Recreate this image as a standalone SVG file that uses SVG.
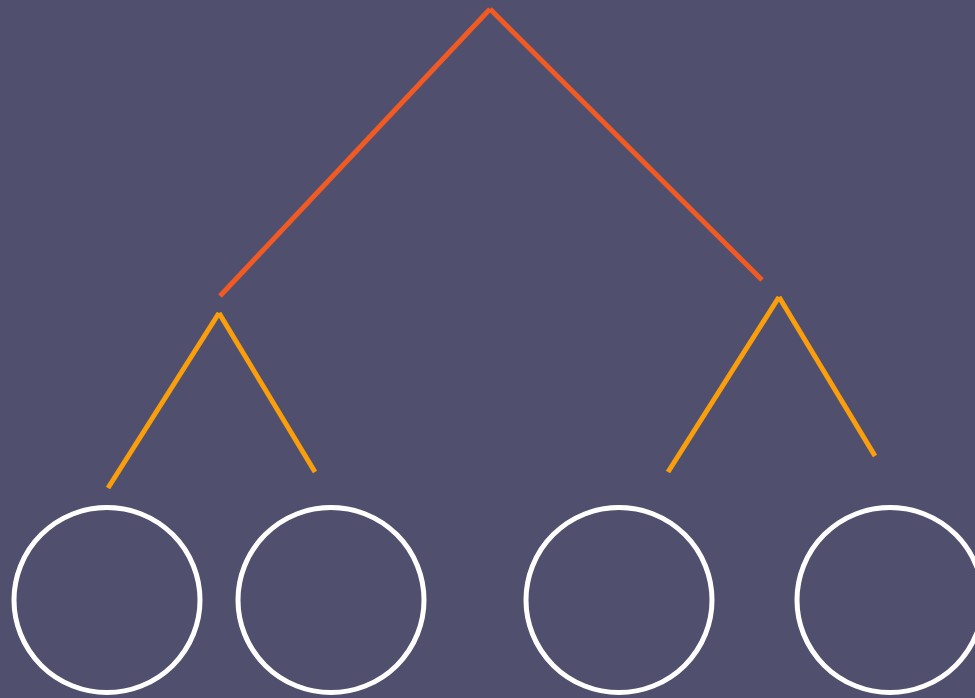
<svg xmlns="http://www.w3.org/2000/svg" width="975" height="698" viewBox="0 0 975 698">
<style>
.bg{fill:#50506E}
.top{stroke:#F15A22;stroke-width:5;fill:none}
.sub{stroke:#FA9E0C;stroke-width:5;fill:none}
.leaf{fill:none;stroke:#FFFFFF;stroke-width:5}
</style>
<rect class="bg" x="0" y="0" width="975" height="698"/>
<g id="connectors">
<line class="top" x1="220" y1="296" x2="490" y2="9"/>
<line class="top" x1="490" y1="9" x2="762" y2="280"/>
<line class="sub" x1="108" y1="488" x2="219" y2="313"/>
<line class="sub" x1="219" y1="313" x2="315" y2="472"/>
<line class="sub" x1="668" y1="472" x2="779" y2="297"/>
<line class="sub" x1="779" y1="297" x2="875" y2="456"/>
</g>
<g id="leaf1"><ellipse class="leaf" cx="107" cy="600" rx="93" ry="92.5"/></g>
<g id="leaf2"><ellipse class="leaf" cx="331" cy="600" rx="93" ry="92.5"/></g>
<g id="leaf3"><ellipse class="leaf" cx="619" cy="600" rx="93" ry="92.5"/></g>
<g id="leaf4"><ellipse class="leaf" cx="890" cy="600" rx="93" ry="92.5"/></g>
</svg>
